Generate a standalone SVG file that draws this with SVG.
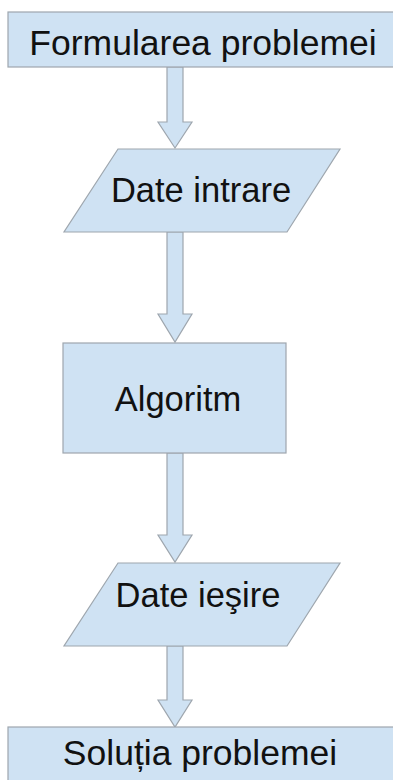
<svg xmlns="http://www.w3.org/2000/svg" width="393" height="780" viewBox="0 0 393 780">
<style>
.shape{fill:#cfe2f3;stroke:#9ea6ae;stroke-width:1.2}
.arrow{fill:#cfe2f3;stroke:#9ea6ae;stroke-width:1.2}
.lbl{font-family:"Liberation Sans",Arial,sans-serif;font-size:35.5px;fill:#111;text-anchor:middle}
</style>
<rect width="393" height="780" fill="#ffffff"/>
<g id="connectors">
<path class="arrow" d="M167,67 L183,67 L183,122 L192,122 L175,148 L158,122 L167,122 Z"/>
<path class="arrow" d="M167,232 L183,232 L183,314 L192,314 L175,342 L158,314 L167,314 Z"/>
<path class="arrow" d="M167,453 L183,453 L183,535 L192,535 L175,562 L158,535 L167,535 Z"/>
<path class="arrow" d="M167,646 L183,646 L183,700 L192,700 L175,727 L158,700 L167,700 Z"/>
</g>
<g id="formularea">
<rect class="shape" x="8" y="12" width="400" height="55"/>
<text class="lbl" x="203" y="55">Formularea problemei</text>
</g>
<g id="date-intrare">
<polygon class="shape" points="118,149 340,149 287,232 64,232"/>
<text class="lbl" x="201" y="202" style="font-size:34.5px">Date intrare</text>
</g>
<g id="algoritm">
<rect class="shape" x="63" y="343" width="223" height="110"/>
<text class="lbl" x="178" y="411" style="font-size:34.5px">Algoritm</text>
</g>
<g id="date-iesire">
<polygon class="shape" points="118,563 340,563 287,646 64,646"/>
<text class="lbl" x="198" y="607" style="font-size:34.5px">Date ieşire</text>
</g>
<g id="solutia">
<rect class="shape" x="8" y="727" width="400" height="70"/>
<text class="lbl" x="200" y="765">Soluția problemei</text>
</g>
</svg>
